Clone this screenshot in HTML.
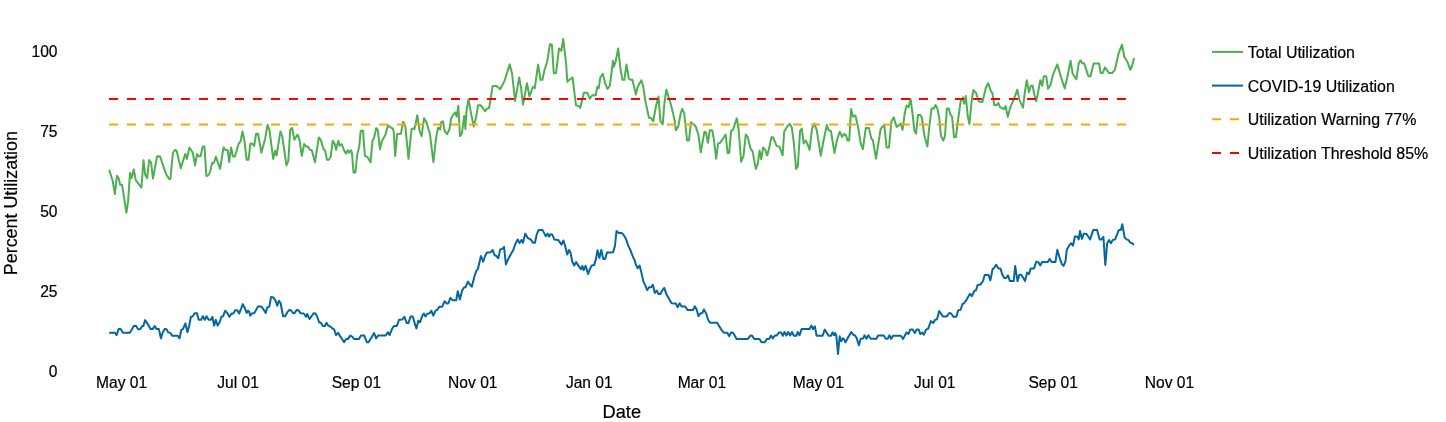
<!DOCTYPE html>
<html><head><meta charset="utf-8"><style>
html,body{margin:0;padding:0;background:#fff;}
svg{display:block;}
.t{font-family:"Liberation Sans",Arial,sans-serif;font-size:15.6px;fill:#000;stroke:#000;stroke-width:0.2px;}
.lg{font-family:"Liberation Sans",Arial,sans-serif;font-size:15.95px;fill:#000;stroke:#000;stroke-width:0.2px;}
.ti{font-family:"Liberation Sans",Arial,sans-serif;font-size:18.2px;fill:#000;stroke:#000;stroke-width:0.2px;}
</style></head><body>
<svg width="1446" height="422" viewBox="0 0 1446 422">
<text x="57.5" y="377.0" text-anchor="end" class="t">0</text>
<text x="57.5" y="296.9" text-anchor="end" class="t">25</text>
<text x="57.5" y="216.8" text-anchor="end" class="t">50</text>
<text x="57.5" y="136.6" text-anchor="end" class="t">75</text>
<text x="57.5" y="56.5" text-anchor="end" class="t">100</text>
<text x="121.6" y="388" text-anchor="middle" class="t">May 01</text>
<text x="238.0" y="388" text-anchor="middle" class="t">Jul 01</text>
<text x="356.4" y="388" text-anchor="middle" class="t">Sep 01</text>
<text x="472.8" y="388" text-anchor="middle" class="t">Nov 01</text>
<text x="589.3" y="388" text-anchor="middle" class="t">Jan 01</text>
<text x="701.9" y="388" text-anchor="middle" class="t">Mar 01</text>
<text x="818.3" y="388" text-anchor="middle" class="t">May 01</text>
<text x="934.7" y="388" text-anchor="middle" class="t">Jul 01</text>
<text x="1053.1" y="388" text-anchor="middle" class="t">Sep 01</text>
<text x="1169.5" y="388" text-anchor="middle" class="t">Nov 01</text>
<text x="621.8" y="417.7" text-anchor="middle" class="ti">Date</text>
<text transform="translate(17.0,203.1) rotate(-90)" text-anchor="middle" class="ti" style="font-size:17.9px">Percent Utilization</text>
<path d="M109.2,169.7 L112.6,180.5 L114.9,194.1 L116.9,175.8 L118.6,178.2 L120.2,184.7 L122.1,185.0 L126.4,212.7 L128.1,201.4 L130.0,172.9 L131.5,178.2 L133.8,169.5 L135.7,180.1 L141.4,187.7 L143.5,160.2 L145.2,174.8 L147.1,178.2 L149.2,160.0 L151.1,162.5 L153.0,178.6 L157.1,156.2 L160.0,156.4 L166.0,173.9 L169.1,179.0 L170.4,179.0 L172.9,153.0 L175.1,149.8 L176.7,151.1 L180.8,168.2 L185.2,154.0 L186.9,158.9 L189.4,147.5 L192.8,152.7 L195.1,165.4 L197.0,154.0 L198.9,156.4 L200.7,156.1 L202.6,146.6 L204.5,146.6 L206.4,176.0 L208.3,175.4 L210.2,171.6 L212.1,163.1 L214.0,162.7 L215.9,156.8 L220.1,168.8 L223.5,147.5 L225.0,149.8 L227.7,150.2 L229.2,162.1 L231.1,147.5 L233.0,156.4 L234.9,156.4 L238.7,143.7 L240.6,141.3 L242.5,131.4 L244.4,140.3 L246.6,159.7 L248.5,159.7 L250.4,143.6 L252.3,143.7 L254.2,146.0 L256.1,133.7 L258.0,133.7 L261.4,152.7 L265.2,138.4 L267.5,124.8 L269.4,129.9 L273.2,158.9 L275.1,150.8 L276.6,155.5 L280.4,131.4 L282.3,136.5 L286.4,165.4 L288.3,161.2 L290.2,129.9 L292.1,128.0 L294.4,139.8 L297.6,134.5 L299.5,139.8 L301.8,155.9 L304.2,144.0 L306.1,146.4 L308.0,146.8 L309.9,149.7 L311.8,150.2 L315.0,162.2 L318.8,137.5 L320.7,139.8 L323.2,148.3 L325.1,150.8 L327.0,159.7 L328.9,159.7 L330.8,156.5 L332.7,140.8 L334.5,143.6 L336.1,149.7 L338.3,140.8 L339.7,145.5 L341.6,144.2 L344.0,150.2 L345.9,153.6 L347.8,150.2 L349.1,152.7 L351.0,150.2 L352.0,153.1 L353.5,172.4 L355.4,172.4 L357.3,154.0 L359.2,147.0 L360.7,130.7 L363.0,130.7 L364.9,155.9 L367.3,156.9 L370.6,162.2 L372.5,140.8 L374.0,137.9 L376.3,128.1 L377.8,130.0 L380.0,149.3 L381.9,140.8 L383.8,137.9 L385.7,134.1 L388.0,125.2 L390.5,127.5 L392.4,128.1 L393.7,131.3 L395.2,155.9 L397.1,134.1 L399.0,134.1 L400.9,133.7 L403.2,121.8 L405.3,126.2 L408.5,158.8 L411.6,129.0 L413.3,128.5 L414.5,129.0 L417.3,115.2 L419.7,131.4 L421.6,136.1 L424.0,118.3 L426.3,121.9 L429.9,133.7 L433.4,162.2 L436.3,136.1 L438.2,127.8 L440.1,129.5 L441.3,121.9 L442.9,121.4 L444.8,131.4 L447.2,134.2 L449.5,129.0 L451.2,118.3 L453.6,114.3 L455.2,112.4 L456.7,116.7 L458.3,105.8 L460.0,136.1 L461.9,133.7 L464.2,115.9 L465.4,129.0 L466.6,110.0 L468.5,99.4 L470.9,112.4 L473.7,126.6 L476.1,117.1 L478.0,105.3 L480.8,105.3 L485.1,111.2 L486.8,108.8 L489.1,108.1 L492.7,85.9 L496.2,85.9 L499.8,88.7 L500.2,89.2 L504.5,80.9 L509.7,64.4 L512.1,73.8 L515.1,101.1 L519.2,77.4 L521.1,88.1 L523.0,104.6 L527.0,83.3 L529.4,96.4 L532.9,86.9 L534.8,88.1 L538.1,64.4 L540.5,79.8 L542.4,79.8 L544.3,70.8 L547.1,62.0 L550.0,44.2 L551.9,44.7 L553.8,73.1 L556.1,73.1 L559.0,48.5 L561.4,50.9 L563.2,39.0 L566.1,63.2 L567.3,81.7 L569.6,79.8 L572.5,77.4 L576.0,105.4 L578.4,105.8 L580.3,107.7 L583.9,92.8 L587.4,92.8 L589.8,98.7 L592.2,95.2 L595.7,95.2 L597.3,86.9 L598.7,88.1 L600.4,77.4 L602.8,73.8 L605.1,83.3 L607.5,88.8 L609.9,85.7 L613.0,60.8 L613.9,66.7 L615.8,60.8 L618.2,48.5 L620.5,69.1 L622.4,79.8 L624.3,79.8 L626.5,64.4 L628.8,78.6 L630.5,79.8 L632.4,79.8 L635.9,94.5 L637.6,86.9 L641.4,80.2 L643.1,85.7 L645.4,101.1 L649.0,117.7 L651.4,118.2 L653.2,121.2 L656.1,105.8 L658.5,96.4 L660.4,121.2 L662.7,124.3 L664.4,103.5 L666.3,89.7 L668.4,96.4 L670.3,102.3 L672.7,111.8 L674.6,120.0 L675.9,130.2 L678.3,126.2 L680.7,113.2 L682.3,108.9 L684.2,113.2 L687.1,140.4 L689.0,140.4 L690.9,122.2 L693.2,123.8 L695.6,126.2 L698.4,134.5 L700.8,152.3 L704.4,131.7 L706.0,132.6 L707.9,142.8 L709.8,130.2 L712.2,130.2 L713.8,138.8 L716.2,158.7 L718.1,143.5 L720.2,142.8 L725.7,134.5 L727.6,153.0 L729.2,153.0 L731.1,130.9 L732.8,130.2 L736.8,118.4 L738.7,129.8 L741.1,161.8 L743.5,155.8 L745.8,134.5 L747.7,136.9 L750.6,148.7 L752.5,151.1 L755.8,168.9 L757.7,164.1 L759.6,150.6 L761.2,159.4 L763.1,147.5 L765.3,149.9 L767.2,155.4 L769.5,146.4 L771.4,137.3 L773.1,137.3 L776.6,145.9 L779.5,146.8 L782.6,155.4 L784.2,131.7 L786.6,127.4 L789.5,123.8 L791.8,127.4 L793.7,141.6 L796.1,168.9 L797.8,166.5 L800.1,130.9 L801.8,128.6 L803.7,143.5 L805.6,140.4 L807.3,143.5 L809.6,149.9 L812.0,128.6 L814.4,123.8 L816.7,129.8 L820.8,155.8 L823.1,142.8 L826.9,125.0 L828.6,130.2 L830.9,130.9 L834.5,153.0 L836.9,140.4 L839.7,131.7 L842.1,136.9 L844.0,134.0 L845.9,135.0 L847.5,140.4 L849.2,140.4 L851.1,108.9 L853.0,116.7 L855.4,115.5 L858.2,127.4 L860.6,142.8 L862.9,149.2 L865.8,127.9 L868.9,127.9 L871.2,138.1 L872.9,140.4 L876.0,158.7 L878.3,144.0 L880.7,128.6 L884.3,125.0 L886.6,147.5 L889.0,147.5 L891.4,121.5 L893.7,117.4 L896.6,126.9 L900.7,123.5 L902.6,129.9 L904.7,113.3 L906.6,105.5 L908.5,107.4 L910.6,99.1 L912.5,113.3 L914.4,130.6 L916.1,133.5 L918.0,115.0 L920.3,115.0 L922.0,118.1 L924.4,135.8 L927.4,146.5 L929.1,128.7 L931.5,108.6 L933.8,108.6 L935.5,105.0 L937.4,108.6 L939.3,118.1 L940.9,135.8 L943.3,140.6 L945.0,135.8 L946.9,108.6 L948.8,108.6 L950.4,114.5 L952.1,116.9 L954.0,137.0 L955.9,137.0 L958.2,119.2 L960.6,101.5 L963.0,97.4 L964.2,103.8 L965.8,96.0 L967.7,115.7 L969.4,124.0 L971.8,99.1 L973.4,90.1 L975.8,92.5 L978.9,101.5 L982.4,101.9 L986.0,87.3 L988.3,83.2 L990.7,90.8 L992.4,93.2 L994.3,105.0 L996.6,105.0 L998.3,103.1 L1000.2,107.4 L1001.8,107.9 L1003.7,109.3 L1005.6,106.2 L1007.8,116.9 L1010.0,108.2 L1013.0,101.1 L1015.4,95.2 L1017.3,89.7 L1019.4,99.9 L1023.0,107.7 L1024.9,91.6 L1026.8,80.2 L1028.9,92.1 L1030.8,85.7 L1032.7,85.7 L1034.4,95.2 L1036.3,101.1 L1038.4,90.4 L1040.3,80.2 L1042.2,85.7 L1043.8,76.2 L1046.2,76.2 L1048.1,88.8 L1050.2,85.7 L1053.3,73.8 L1057.3,64.4 L1061.1,77.4 L1064.7,88.5 L1067.5,76.2 L1070.6,60.8 L1072.7,73.8 L1076.3,79.3 L1078.7,63.6 L1080.6,60.3 L1082.2,63.2 L1084.1,63.2 L1085.8,68.4 L1088.4,76.2 L1090.5,76.2 L1093.6,63.6 L1096.7,63.6 L1099.1,63.6 L1100.7,73.1 L1102.6,73.1 L1105.0,67.4 L1109.0,73.1 L1112.1,73.1 L1114.9,69.8 L1118.5,53.7 L1122.0,44.7 L1124.4,57.3 L1127.5,62.0 L1130.3,69.8 L1132.2,65.5 L1134.1,58.0" fill="none" stroke="#4caf50" stroke-width="2" stroke-linejoin="round"/>
<path d="M109.1,332.7 L114.9,332.7 L116.6,335.2 L118.6,329.1 L120.7,329.1 L122.9,332.7 L129.9,332.7 L134.0,325.8 L136.2,326.1 L138.1,329.3 L140.1,329.3 L142.3,326.1 L143.4,326.1 L145.1,320.1 L147.3,323.4 L150.6,329.1 L152.7,329.1 L154.7,326.1 L156.7,329.1 L158.9,329.1 L160.9,338.4 L162.5,333.1 L164.7,329.1 L166.3,329.1 L168.3,332.4 L170.5,333.1 L172.1,335.7 L177.6,335.7 L179.6,338.4 L181.3,329.8 L182.9,329.1 L185.4,323.4 L187.4,332.2 L189.1,326.4 L190.9,316.8 L192.5,316.5 L194.9,313.2 L197.0,313.2 L198.7,319.8 L201.2,319.8 L202.8,316.2 L204.8,319.8 L206.5,316.2 L208.6,319.8 L210.8,319.8 L212.4,316.8 L214.1,325.6 L215.8,319.8 L217.7,325.6 L219.4,322.8 L221.4,316.8 L223.1,316.2 L225.2,310.7 L227.4,313.2 L229.4,316.8 L231.3,314.0 L233.5,313.2 L235.2,310.2 L237.3,310.2 L239.1,313.5 L240.8,309.5 L242.8,304.1 L244.9,308.2 L246.6,312.9 L247.9,310.7 L249.1,311.5 L250.2,315.7 L252.4,313.2 L254.5,312.9 L257.9,306.6 L261.5,306.6 L263.2,309.0 L265.7,312.9 L267.3,307.4 L269.3,306.6 L271.1,296.9 L273.4,297.4 L275.6,300.8 L277.3,305.7 L278.9,300.8 L280.6,303.2 L283.1,316.2 L285.1,316.2 L287.2,312.4 L289.4,309.9 L291.0,310.2 L293.0,313.2 L294.7,312.9 L296.7,309.9 L298.3,310.2 L300.5,313.2 L303.8,313.5 L306.0,316.8 L307.1,314.0 L309.6,319.0 L311.3,316.5 L313.7,313.2 L315.4,313.5 L317.1,316.5 L319.2,322.3 L320.9,322.8 L322.9,326.1 L324.9,326.1 L326.5,322.8 L328.2,325.6 L330.3,326.5 L332.5,328.4 L334.1,329.4 L336.1,335.1 L338.1,332.8 L340.3,336.4 L344.1,342.2 L346.1,338.9 L348.1,338.9 L350.2,335.6 L351.9,336.4 L354.0,338.9 L359.0,338.9 L361.0,335.6 L364.3,335.6 L366.8,342.2 L368.6,342.2 L371.3,337.7 L374.1,333.0 L376.1,338.3 L378.2,335.5 L385.7,335.5 L387.9,332.2 L389.5,335.0 L392.3,328.4 L394.0,326.1 L396.8,326.1 L399.0,319.8 L402.3,319.4 L404.4,316.8 L406.8,323.1 L408.4,323.1 L410.6,316.5 L412.7,316.5 L414.7,323.4 L416.4,328.4 L418.4,320.6 L420.0,322.3 L422.2,316.1 L423.8,313.5 L425.5,316.5 L427.2,314.0 L429.7,313.1 L431.3,310.7 L433.3,315.6 L435.5,310.7 L437.1,309.8 L439.3,306.8 L442.1,306.8 L444.6,301.2 L446.6,303.5 L448.2,303.5 L450.4,297.9 L452.5,300.2 L456.2,300.2 L457.8,291.3 L459.9,299.6 L462.3,290.1 L464.2,287.3 L465.5,287.3 L468.0,281.6 L469.9,284.5 L471.8,286.7 L474.3,276.9 L476.2,271.2 L478.1,268.3 L480.9,256.0 L483.2,261.7 L485.1,256.0 L487.0,252.6 L490.2,252.6 L492.7,250.0 L494.5,255.1 L496.4,256.0 L498.3,258.3 L500.2,249.4 L502.7,248.8 L504.0,246.9 L505.9,264.5 L507.8,259.8 L510.7,254.5 L513.5,249.4 L515.4,243.7 L517.7,239.5 L519.6,243.1 L521.5,239.9 L523.0,242.7 L525.3,233.6 L527.7,238.0 L530.6,239.3 L533.0,242.7 L534.9,242.7 L536.8,234.2 L538.7,229.9 L542.5,229.9 L545.7,236.1 L547.6,233.6 L549.0,236.7 L550.5,234.2 L552.4,234.8 L554.3,239.5 L558.1,239.9 L560.0,242.4 L561.5,244.6 L563.4,240.5 L565.3,246.5 L567.2,254.5 L569.1,250.0 L570.4,252.2 L572.3,261.7 L574.2,265.5 L576.1,262.1 L579.0,266.4 L580.9,269.3 L582.4,265.9 L583.7,270.2 L585.6,265.9 L588.1,274.0 L590.0,268.9 L591.8,265.5 L594.1,265.1 L596.0,258.9 L597.5,250.3 L599.4,257.9 L601.3,250.0 L603.2,258.9 L605.1,258.9 L607.0,252.6 L611.2,252.6 L613.1,252.2 L615.0,245.6 L616.5,231.0 L618.8,232.9 L621.6,232.9 L623.5,234.8 L626.0,239.0 L628.2,245.6 L630.5,250.3 L633.0,257.0 L634.5,259.8 L635.8,264.5 L637.7,268.3 L639.6,265.5 L641.5,273.1 L643.4,281.6 L645.3,285.4 L647.2,290.1 L649.1,287.3 L651.0,287.3 L652.9,284.8 L654.8,293.0 L656.7,290.5 L658.6,293.9 L660.5,293.9 L662.4,290.1 L664.3,287.9 L666.3,294.1 L669.1,299.1 L671.6,303.2 L675.8,303.5 L677.7,307.4 L679.6,303.2 L681.6,306.5 L685.2,306.5 L687.4,309.9 L693.2,309.9 L694.8,306.2 L696.8,309.9 L698.5,316.2 L700.6,313.2 L702.3,313.2 L703.9,309.5 L706.1,313.2 L708.1,319.8 L710.1,322.8 L717.2,322.8 L719.4,326.4 L721.7,330.1 L723.8,332.7 L727.2,332.7 L729.3,336.1 L731.0,332.4 L733.0,332.7 L735.0,336.1 L736.6,338.9 L747.9,338.9 L750.4,335.6 L752.0,335.6 L754.2,338.9 L759.5,338.9 L761.5,342.2 L764.8,342.2 L767.0,338.9 L769.1,338.9 L771.1,335.6 L772.8,338.4 L774.8,335.6 L776.9,335.6 L778.8,332.4 L781.1,332.4 L782.8,335.8 L784.5,332.0 L786.4,335.5 L788.2,332.0 L790.2,335.5 L792.0,332.0 L793.9,335.8 L796.3,335.8 L797.7,332.0 L799.6,335.3 L801.6,329.1 L809.5,329.1 L811.5,325.6 L812.9,329.1 L814.8,326.3 L816.6,335.8 L822.6,335.8 L824.7,329.6 L826.6,332.4 L828.6,335.8 L830.9,335.8 L832.6,332.4 L834.0,335.3 L835.1,333.0 L836.3,335.5 L838.0,354.0 L839.7,336.3 L841.1,341.2 L842.8,338.4 L843.9,339.1 L845.4,342.4 L848.2,337.3 L851.3,332.0 L853.2,334.8 L855.0,335.5 L856.7,338.1 L858.9,345.2 L860.7,338.7 L863.1,338.4 L864.6,335.3 L866.4,338.7 L868.4,335.3 L870.7,338.7 L876.4,338.7 L878.1,335.5 L883.7,335.5 L885.9,338.7 L887.7,338.7 L889.5,335.3 L891.1,338.9 L893.0,335.8 L900.9,335.8 L903.0,338.9 L906.5,332.5 L908.4,334.1 L910.3,329.4 L912.7,329.4 L914.8,332.9 L916.7,329.4 L918.6,329.4 L920.3,334.1 L922.2,332.5 L923.8,334.8 L926.2,329.4 L928.1,328.9 L930.9,321.1 L933.3,323.0 L935.0,319.9 L936.9,319.4 L939.2,311.1 L942.8,316.4 L946.8,316.4 L949.2,313.0 L951.1,313.5 L953.5,316.8 L956.3,316.8 L958.2,310.4 L960.6,309.7 L962.5,304.0 L964.1,303.3 L967.2,298.6 L970.0,293.8 L971.9,296.2 L974.3,290.8 L976.0,290.3 L977.6,285.1 L980.7,284.4 L983.1,280.8 L984.7,274.9 L988.5,274.9 L990.4,280.3 L992.6,269.0 L993.7,268.5 L996.1,264.7 L998.5,268.5 L1000.4,268.4 L1002.3,274.5 L1004.2,277.9 L1006.1,277.9 L1008.0,275.4 L1009.9,281.1 L1013.7,281.1 L1015.2,265.9 L1017.5,281.1 L1019.4,274.8 L1021.3,274.8 L1025.1,281.1 L1027.0,272.6 L1028.9,274.1 L1030.8,268.4 L1034.0,268.4 L1036.4,261.6 L1038.3,262.1 L1040.2,265.5 L1042.1,262.1 L1047.8,262.1 L1049.7,258.9 L1051.6,262.1 L1055.4,262.1 L1057.3,249.8 L1059.2,256.4 L1061.7,264.0 L1063.6,265.9 L1065.5,261.2 L1066.8,249.8 L1069.2,245.6 L1071.1,243.2 L1073.0,245.6 L1074.9,236.5 L1077.2,236.5 L1078.7,239.4 L1080.0,230.9 L1081.9,238.8 L1083.8,233.7 L1086.3,233.7 L1088.2,236.5 L1090.1,239.4 L1093.3,229.9 L1097.1,229.9 L1099.6,239.4 L1101.5,239.4 L1103.4,236.9 L1105.3,265.0 L1107.2,243.2 L1109.1,240.0 L1110.9,243.2 L1112.8,240.0 L1115.1,239.4 L1117.0,234.6 L1118.9,229.9 L1120.8,229.9 L1122.3,224.2 L1124.6,237.5 L1126.5,239.4 L1128.4,240.0 L1130.3,242.6 L1132.2,243.2 L1133.7,245.1" fill="none" stroke="#0567a0" stroke-width="2" stroke-linejoin="round"/>
<line x1="109" x2="1134" y1="99.01" y2="99.01" stroke="#ff0000" stroke-width="2" stroke-dasharray="9,9"/>
<line x1="109" x2="1134" y1="124.56" y2="124.56" stroke="#ffa500" stroke-width="2" stroke-dasharray="9,9"/>
<line x1="1212" x2="1243" y1="51.9" y2="51.9" stroke="#4caf50" stroke-width="2"/>
<text x="1247.8" y="57.8" class="lg">Total Utilization</text>
<line x1="1212" x2="1243" y1="85.6" y2="85.6" stroke="#0567a0" stroke-width="2"/>
<text x="1247.8" y="91.5" class="lg">COVID-19 Utilization</text>
<line x1="1212" x2="1243" y1="119.2" y2="119.2" stroke="#ffa500" stroke-width="2" stroke-dasharray="9,9"/>
<text x="1247.8" y="125.1" class="lg">Utilization Warning 77%</text>
<line x1="1212" x2="1243" y1="152.9" y2="152.9" stroke="#ff0000" stroke-width="2" stroke-dasharray="9,9"/>
<text x="1247.8" y="158.8" class="lg">Utilization Threshold 85%</text>
</svg>
</body></html>
